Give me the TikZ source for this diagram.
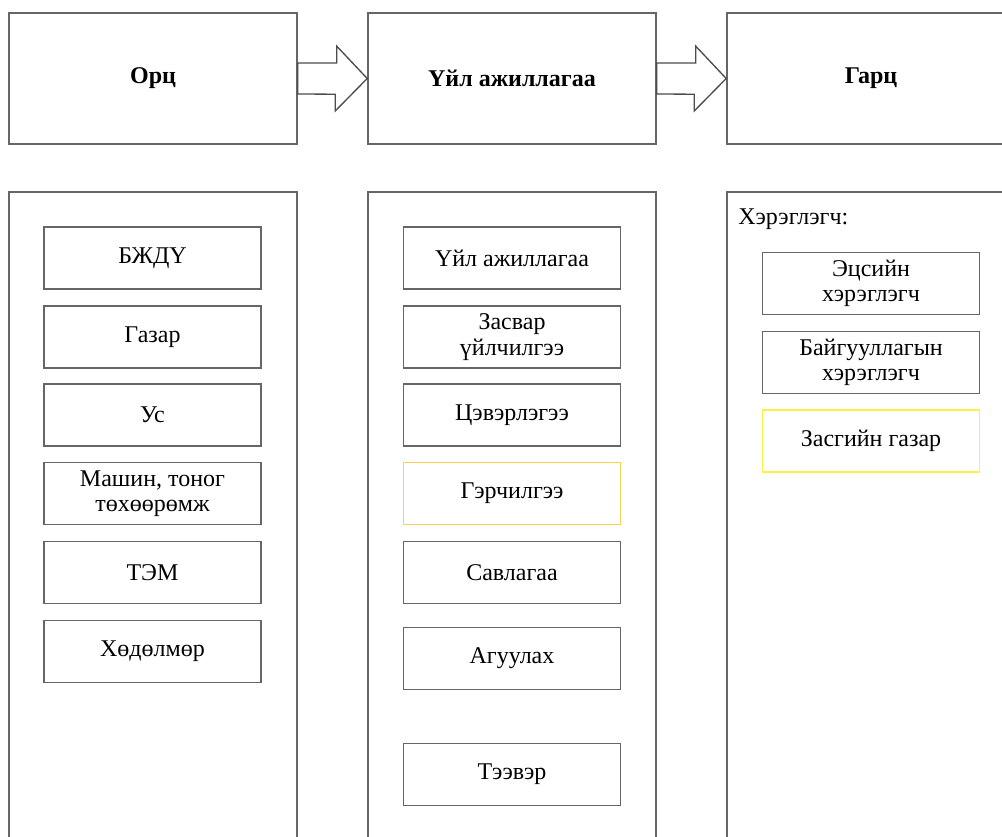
\documentclass[tikz,border=0pt]{standalone}
\usepackage{fontspec}
\setmainfont{Liberation Serif}

\begin{document}
\begin{tikzpicture}[x=0.75pt,y=-0.75pt,
  font=\fontsize{18}{19}\selectfont,
  mainbox/.style={draw=black!60,line width=1.2pt,minimum width=216pt,minimum height=98.25pt,font=\fontsize{18}{19}\selectfont\bfseries},
  panel/.style={draw=black!60,line width=1.2pt},
  itembox/.style={draw=black!60,line width=1.2pt,minimum width=162.75pt,minimum height=46.5pt,align=center,inner sep=1pt},
  blockarrow/.style={draw=black!70,line width=1pt,fill=white}]
\clip (0,0) rectangle (1002,837);
\path[fill=white] (0,0) rectangle (1002,837);
\node[mainbox] (orc) at (153,78.5) {Орц};
\node[mainbox] (uil) at (512,78.5) {Үйл ажиллагаа};
\node[mainbox] (garc) at (871,78.5) {Гарц};
\draw[blockarrow] ([yshift=11.6pt]orc.east) -- ++(29.25pt,0) -- ++(0,12.6pt) -- (uil.west) -- ++(-24pt,-24.4pt) -- ++(0,12.6pt) -- ([yshift=-11.6pt]orc.east) -- cycle;
\draw[blockarrow] ([yshift=11.6pt]uil.east) -- ++(29.25pt,0) -- ++(0,12.6pt) -- (garc.west) -- ++(-24pt,-24.4pt) -- ++(0,12.6pt) -- ([yshift=-11.6pt]uil.east) -- cycle;
\draw[panel] (9,192) rectangle (297,900);
\draw[panel] (368,192) rectangle (656,900);
\draw[panel] (727,192) rectangle (1015,900);
\node[itembox] (bjdu) at (152.5,258) {БЖДҮ};
\node[itembox] (gazar) at (152.5,337) {Газар};
\node[itembox] (us) at (152.5,415) {Ус};
\node[itembox] (mashin) at (152.5,493.5) {Машин, тоног\\төхөөрөмж};
\node[itembox] (tem) at (152.5,572.5) {ТЭМ};
\node[itembox] (hudulmur) at (152.5,651.5) {Хөдөлмөр};
\node[itembox] (uilaj) at (512,258) {Үйл ажиллагаа};
\node[itembox] (zasvar) at (512,337) {Засвар\\үйлчилгээ};
\node[itembox] (tseverlegee) at (512,415) {Цэвэрлэгээ};
\node[itembox,draw={rgb,255:red,250;green,208;blue,90}] (gerchilgee) at (512,493.5) {Гэрчилгээ};
\node[itembox] (savlagaa) at (512,572.5) {Савлагаа};
\node[itembox] (aguulah) at (512,658.5) {Агуулах};
\node[itembox] (teever) at (512,774.5) {Тээвэр};
\node[anchor=west,inner sep=0pt] (hereglegch) at (738,219) {Хэрэглэгч:};
\node[itembox] (etssiin) at (871,283.5) {Эцсийн\\хэрэглэгч};
\node[itembox] (baiguullaga) at (871,362.5) {Байгууллагын\\хэрэглэгч};
\node[itembox,draw={rgb,255:red,255;green,240;blue,70}] (zasgiin) at (871,441) {Засгийн газар};
\end{tikzpicture}
\end{document}
